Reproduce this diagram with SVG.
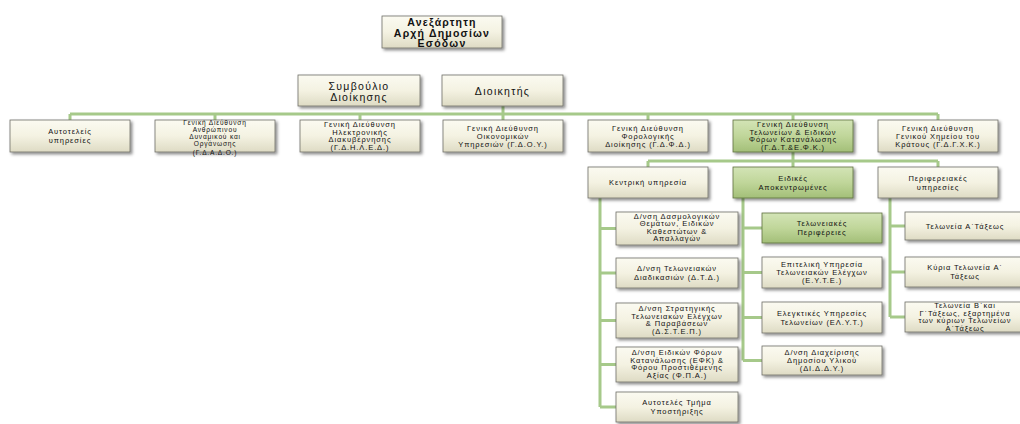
<svg xmlns="http://www.w3.org/2000/svg" width="1020" height="424" viewBox="0 0 1020 424">
<defs>
<linearGradient id="cream" x1="0" y1="0" x2="0" y2="1">
<stop offset="0" stop-color="#fbfaf1"/><stop offset="0.5" stop-color="#f4f2e2"/><stop offset="1" stop-color="#dedbc4"/>
</linearGradient>
<linearGradient id="green" x1="0" y1="0" x2="0" y2="1">
<stop offset="0" stop-color="#d3e4b6"/><stop offset="0.5" stop-color="#c0d69a"/><stop offset="1" stop-color="#a3bf78"/>
</linearGradient>
<filter id="sh" x="-10%" y="-20%" width="125%" height="150%">
<feDropShadow dx="2" dy="2" stdDeviation="1.5" flood-color="#000" flood-opacity="0.45"/>
</filter>
<style>
.box{fill:url(#cream);stroke:#6e6e66;stroke-width:0.8;filter:url(#sh)}
.gbox{fill:url(#green);stroke:#5e7040;stroke-width:0.8;filter:url(#sh)}
.t{font-family:"Liberation Sans","DejaVu Sans",sans-serif;font-size:7.5px;letter-spacing:0.9px;fill:#111;text-anchor:middle}
.ts{font-size:6.6px;letter-spacing:0.8px}
.tb{font-family:"Liberation Sans","DejaVu Sans",sans-serif;font-size:10.5px;font-weight:bold;letter-spacing:1.2px;fill:#111;text-anchor:middle}
.tm{font-family:"Liberation Sans","DejaVu Sans",sans-serif;font-size:10.5px;letter-spacing:1.3px;fill:#111;text-anchor:middle}
.c{fill:none;stroke:#a6c98a;stroke-width:3}
</style>
</defs>
<rect width="1020" height="424" fill="#ffffff"/>
<g id="connectors">
<path class="c" d="M503 106V114M70 114H938M70 114V120M215 114V120M360 114V120M503 114V120M648 114V120M793 114V120M938 114V120"/>
<path class="c" d="M793 152V161M648 161H938M648 161V167M793 161V167M938 161V167"/>
<path class="c" d="M600 198V407M600 228.5H616M600 273H616M600 320.5H616M600 364.5H616M600 407H616"/>
<path class="c" d="M743 198V360.5M743 228H762M743 272.5H762M743 317.5H762M743 360.5H762"/>
<path class="c" d="M890 198V317M890 226H905M890 272H905M890 317H905"/>
</g>
<g id="aade"><rect class="box" x="382" y="16" width="120" height="32"/>
<text class="tb" x="442" y="26">Ανεξάρτητη</text><text class="tb" x="442" y="36.5">Αρχή Δημοσίων</text><text class="tb" x="442" y="46.5">Εσόδων</text></g>
<g id="symvoulio"><rect class="box" x="298" y="75" width="122" height="31"/>
<text class="tm" x="359" y="90">Συμβούλιο</text><text class="tm" x="359" y="101">Διοίκησης</text></g>
<g id="dioikitis"><rect class="box" x="442" y="75" width="121" height="31"/>
<text class="tm" x="502.5" y="95">Διοικητής</text></g>

<g id="autoteleis"><rect class="box" x="10" y="120" width="120" height="32"/>
<text class="t" x="70" y="134">Αυτοτελείς</text><text class="t" x="70" y="143">υπηρεσίες</text></g>
<g id="gdado"><rect class="box" x="155" y="120" width="120" height="32"/>
<text class="t ts" x="215" y="124.5">Γενική Διεύθυνση</text><text class="t ts" x="215" y="131.5">Ανθρώπινου</text><text class="t ts" x="215" y="138.5">Δυναμικού και</text><text class="t ts" x="215" y="145.5">Οργάνωσης</text><text class="t ts" x="215" y="155">(Γ.Δ.Α.Δ.Ο.)</text></g>
<g id="gdiled"><rect class="box" x="300" y="120" width="120" height="32"/>
<text class="t" x="360" y="127">Γενική Διεύθυνση</text><text class="t" x="360" y="134.5">Ηλεκτρονικής</text><text class="t" x="360" y="142">Διακυβέρνησης</text><text class="t" x="360" y="149.5">(Γ.Δ.Η.Λ.Ε.Δ.)</text></g>
<g id="gdoy"><rect class="box" x="443" y="120" width="120" height="32"/>
<text class="t" x="503" y="131">Γενική Διεύθυνση</text><text class="t" x="503" y="139">Οικονομικών</text><text class="t" x="503" y="147">Υπηρεσιών (Γ.Δ.Ο.Υ.)</text></g>
<g id="gdfd"><rect class="box" x="588" y="120" width="120" height="32"/>
<text class="t" x="648" y="131">Γενική Διεύθυνση</text><text class="t" x="648" y="139">Φορολογικής</text><text class="t" x="648" y="147">Διοίκησης (Γ.Δ.Φ.Δ.)</text></g>
<g id="gdtefk"><rect class="gbox" x="733" y="120" width="120" height="32"/>
<text class="t" x="793" y="127">Γενική Διεύθυνση</text><text class="t" x="793" y="134.5">Τελωνείων &amp; Ειδικών</text><text class="t" x="793" y="142">Φόρων Κατανάλωσης</text><text class="t" x="793" y="149.5">(Γ.Δ.Τ.&amp;Ε.Φ.Κ.)</text></g>
<g id="gdgxk"><rect class="box" x="878" y="120" width="120" height="32"/>
<text class="t" x="938" y="131">Γενική Διεύθυνση</text><text class="t" x="938" y="139">Γενικού Χημείου του</text><text class="t" x="938" y="147">Κράτους (Γ.Δ.Γ.Χ.Κ.)</text></g>

<g id="kentriki"><rect class="box" x="588" y="167" width="120" height="31"/>
<text class="t" x="648" y="185">Κεντρική υπηρεσία</text></g>
<g id="eidikes"><rect class="gbox" x="733" y="167" width="120" height="31"/>
<text class="t" x="793" y="181">Ειδικές</text><text class="t" x="793" y="190">Αποκεντρωμένες</text></g>
<g id="perifereiakes"><rect class="box" x="878" y="167" width="120" height="31"/>
<text class="t" x="938" y="181">Περιφερειακές</text><text class="t" x="938" y="190">υπηρεσίες</text></g>

<g id="dasmologikon"><rect class="box" x="616" y="212" width="122" height="33"/>
<text class="t" x="677" y="218.5">Δ/νση Δασμολογικών</text><text class="t" x="677" y="226">Θεμάτων, Ειδικών</text><text class="t" x="677" y="233.5">Καθεστώτων &amp;</text><text class="t" x="677" y="241">Απαλλαγών</text></g>
<g id="dtd"><rect class="box" x="616" y="258" width="122" height="30"/>
<text class="t" x="677" y="271">Δ/νση Τελωνειακών</text><text class="t" x="677" y="279.5">Διαδικασιών (Δ.Τ.Δ.)</text></g>
<g id="dstep"><rect class="box" x="616" y="303" width="122" height="35"/>
<text class="t" x="677" y="311">Δ/νση Στρατηγικής</text><text class="t" x="677" y="318.5">Τελωνειακών Ελέγχων</text><text class="t" x="677" y="326">&amp; Παραβάσεων</text><text class="t" x="677" y="333.5">(Δ.Σ.Τ.Ε.Π.)</text></g>
<g id="defk"><rect class="box" x="616" y="347" width="122" height="35"/>
<text class="t" x="677" y="355">Δ/νση Ειδικών Φόρων</text><text class="t" x="677" y="362.5">Κατανάλωσης (ΕΦΚ) &amp;</text><text class="t" x="677" y="370">Φόρου Προστιθέμενης</text><text class="t" x="677" y="377.5">Αξίας (Φ.Π.Α.)</text></g>
<g id="ypostiriksis"><rect class="box" x="616" y="392" width="122" height="30"/>
<text class="t" x="677" y="405">Αυτοτελές Τμήμα</text><text class="t" x="677" y="413.5">Υποστήριξης</text></g>

<g id="perifereies"><rect class="gbox" x="762" y="213" width="120" height="30"/>
<text class="t" x="822" y="226">Τελωνειακές</text><text class="t" x="822" y="234.5">Περιφέρειες</text></g>
<g id="eyte"><rect class="box" x="762" y="257" width="120" height="31"/>
<text class="t" x="822" y="267">Επιτελική Υπηρεσία</text><text class="t" x="822" y="275">Τελωνειακών Ελέγχων</text><text class="t" x="822" y="283">(Ε.Υ.Τ.Ε.)</text></g>
<g id="elyt"><rect class="box" x="762" y="302" width="120" height="31"/>
<text class="t" x="822" y="316">Ελεγκτικές Υπηρεσίες</text><text class="t" x="822" y="324.5">Τελωνείων (ΕΛ.Υ.Τ.)</text></g>
<g id="diddy"><rect class="box" x="762" y="346" width="120" height="29"/>
<text class="t" x="822" y="355">Δ/νση Διαχείρισης</text><text class="t" x="822" y="363">Δημοσίου Υλικού</text><text class="t" x="822" y="371">(ΔΙ.Δ.Δ.Υ.)</text></g>

<g id="telonia-a"><rect class="box" x="905" y="212" width="120" height="28"/>
<text class="t" x="965" y="229">Τελωνεία Α΄Τάξεως</text></g>
<g id="kyria"><rect class="box" x="905" y="257" width="120" height="30"/>
<text class="t" x="965" y="270">Κύρια Τελωνεία Α΄</text><text class="t" x="965" y="278.5">Τάξεως</text></g>
<g id="telonia-bg"><rect class="box" x="905" y="302" width="120" height="30"/>
<text class="t" x="965" y="308">Τελωνεία Β΄και</text><text class="t" x="965" y="315.5">Γ΄Τάξεως, εξαρτημένα</text><text class="t" x="965" y="323">των κύριων Τελωνείων</text><text class="t" x="965" y="330.5">Α΄Τάξεως</text></g>
</svg>
